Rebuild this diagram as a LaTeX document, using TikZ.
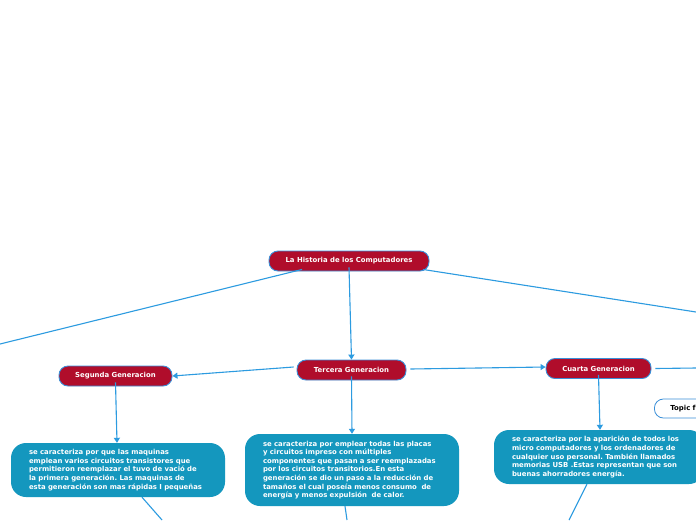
\documentclass[tikz,border=0pt]{standalone}
\usepackage{fontspec}
\setmainfont{DejaVu Sans}
\usetikzlibrary{arrows.meta}
\definecolor{crim}{HTML}{B00D2B}
\definecolor{edgeblue}{HTML}{3A8FD8}
\definecolor{teal}{HTML}{1497BE}
\definecolor{linkblue}{HTML}{2C9BE0}
\frenchspacing
\tikzset{
  gen/.style={draw=edgeblue, line width=0.9pt, fill=crim, rounded corners=9pt, text=white,
    font=\fontsize{6.9}{8}\selectfont\bfseries, minimum height=20pt, inner sep=0pt},
  desc/.style={fill=teal, rounded corners=15pt, text=white, align=left, inner sep=0pt,
    font=\fontsize{6.9}{8.6}\selectfont\bfseries},
  topic/.style={draw=edgeblue, line width=0.8pt, fill=white, rounded corners=9pt, text=black,
    font=\fontsize{6.9}{8}\selectfont\bfseries, minimum height=19pt, inner sep=0pt, anchor=west,
    text width=70pt, align=left},
  link/.style={draw=linkblue, line width=1.1pt},
  arr/.style={link, -{Triangle[length=5pt,width=6pt]}}
}
\begin{document}
\begin{tikzpicture}[x=1pt,y=-1pt]
\useasboundingbox[fill=white] (0,0) rectangle (696,520);
% nodes
\node[gen, minimum width=160pt] (root) at (349,261) {La Historia de los Computadores};
\node[gen, minimum width=113pt] (seg) at (115.5,376) {Segunda Generacion};
\node[gen, minimum width=109pt] (ter) at (351.5,370) {Tercera Generacion};
\node[gen, minimum width=105pt] (cua) at (598.5,368.5) {Cuarta Generacion};
\node[topic] (topic) at (654,408.5) {\hspace*{16pt}Topic f};
\node[desc, minimum width=214pt, minimum height=54pt, text width=178pt] (d1) at (118,470)
{se caracteriza por que las maquinas\\
emplean varios circuitos transistores que\\
permitieron reemplazar el tuvo de vació de\\
la primera generación. Las maquinas de\\
esta generación son mas rápidas I pequeñas};
\node[desc, minimum width=214pt, minimum height=72pt, text width=178pt] (d2) at (352,470)
{se caracteriza por emplear todas las placas\\
y circuitos impreso con múltiples\\
componentes que pasan a ser reemplazadas\\
por los circuitos transitorios.En esta\\
generación se dio un paso a la reducción de\\
tamaños el cual poseía menos consumo\ \ de\\
energía y menos expulsión\ \ de calor.};
\node[desc, minimum width=210pt, minimum height=54pt, text width=174pt] (d3) at (599,457)
{se caracteriza por la aparición de todos los\\
micro computadores y los ordenadores de\\
cualquier uso personal. También llamados\\
memorias USB .Estas representan que son\\
buenas ahorradores energía.};
% free ends
\coordinate (offL) at (0,344);
\coordinate (offR) at (696,312);
\coordinate (offC) at (696,368);
\coordinate (off1) at (162,520);
\coordinate (off2) at (347,520);
\coordinate (off3) at (569,520);
% connectors
\draw[link] ([xshift=-47pt,yshift=2pt]root.south) -- (offL);
\draw[link] ([xshift=74pt,yshift=2pt]root.south) -- (offR);
\draw[arr] ([yshift=4pt]root.south) -- (ter.north);
\draw[arr] ([xshift=-3pt,yshift=3pt]ter.west) -- (seg.east);
\draw[arr] ([xshift=4pt,yshift=1pt]ter.east) -- ([yshift=1.5pt]cua.west);
\draw[link] ([xshift=4pt]cua.east) -- (offC);
\draw[arr] ([yshift=4pt]seg.south) -- ([xshift=-1pt]d1.north);
\draw[arr] ([yshift=4pt]ter.south) -- (d2.north);
\draw[arr] ([yshift=4pt]cua.south) -- ([xshift=1pt]d3.north);
\draw[link] ([xshift=24pt]d1.south) -- (off1);
\draw[link] ([xshift=-7pt]d2.south) -- (off2);
\draw[link] ([xshift=-12pt]d3.south) -- (off3);
\end{tikzpicture}
\end{document}
